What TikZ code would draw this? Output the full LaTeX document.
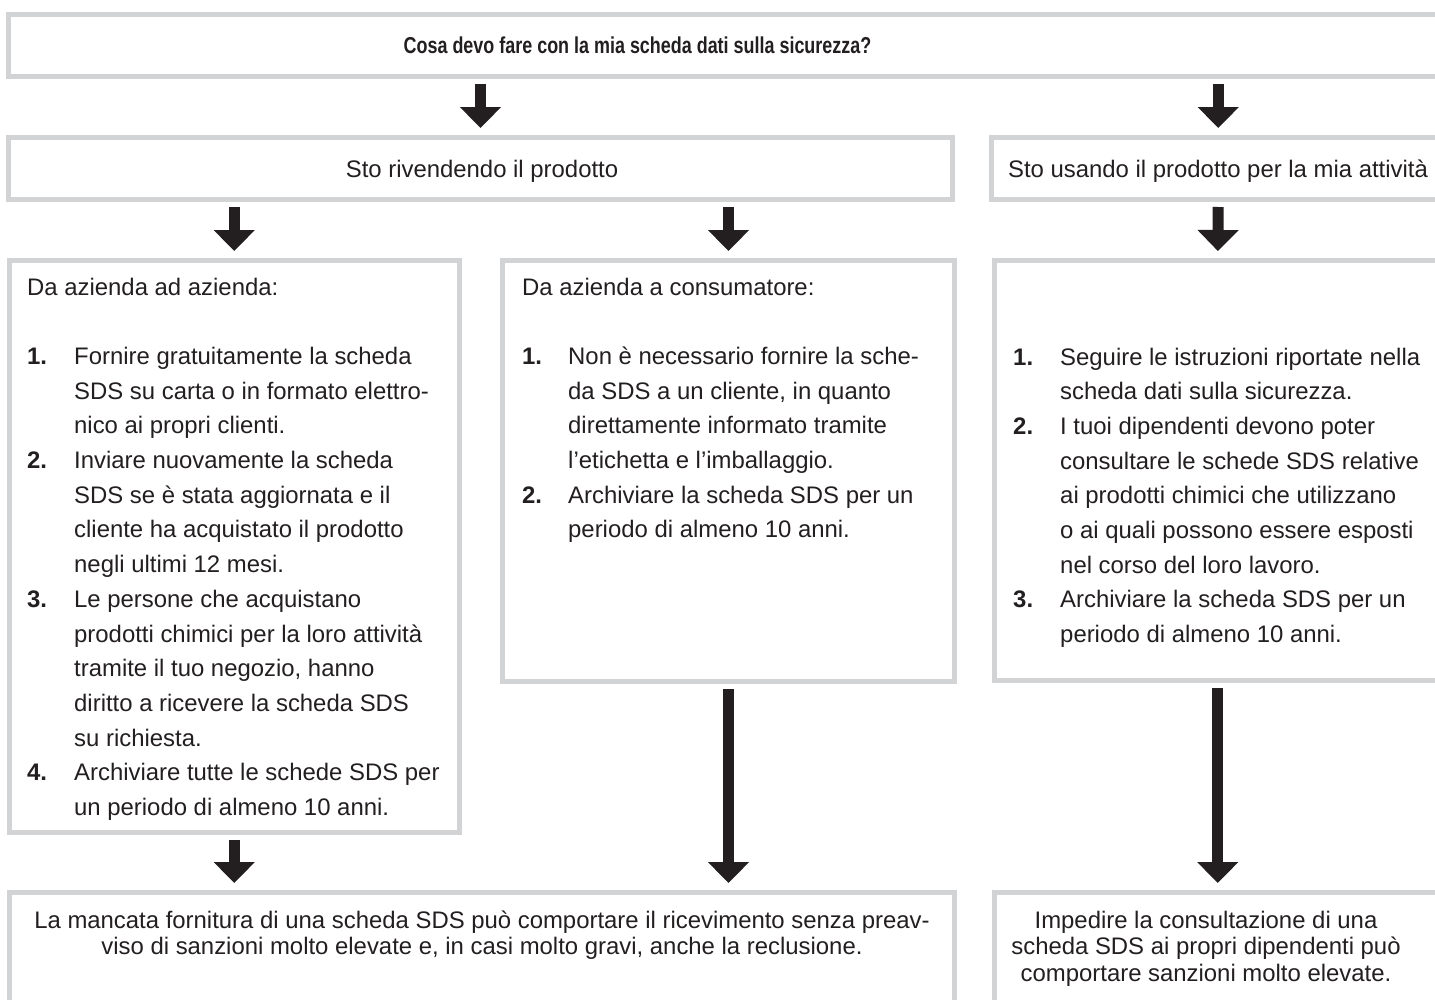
\documentclass[tikz,border=0pt]{standalone}
\usepackage{fontspec}
\setmainfont{Liberation Sans}
\newfontfamily\titlefont[FakeStretch=0.78]{Liberation Sans}
\usetikzlibrary{arrows.meta}

\definecolor{panelgray}{RGB}{209,211,212}
\definecolor{ink}{RGB}{35,31,32}

\newcommand{\bodysize}{\fontsize{23.9}{34.7}\selectfont}
\newcommand{\notesize}{\fontsize{23.9}{26.7}\selectfont}
\newcommand{\itemno}[1]{\textbf{#1}}

\begin{document}
\begin{tikzpicture}[x=1pt, y=-1pt,
    panel/.style={draw=panelgray, line width=5pt, fill=white, inner sep=0pt},
    txt/.style={text=ink, inner sep=0pt, font=\bodysize},
    down/.style={draw=ink, line width=11pt, -{Triangle[width=40pt,length=21pt]},
                 shorten <=5pt, shorten >=7pt}]
    \useasboundingbox[fill=white] (0,0) rectangle (1435,999);
    \clip (0,0) rectangle (1435,999);

    % boxes
    \node[panel, minimum width=1436.5pt, minimum height=62pt] (top) at (726.75,45.5) {};
    \node[panel, minimum width=944pt, minimum height=62pt] (riv) at (480.5,168.5) {};
    \node[panel, minimum width=453.5pt, minimum height=62pt] (uso) at (1218.25,168.5) {};
    \node[panel, minimum width=450.5pt, minimum height=572pt] (boxA) at (234.25,546.5) {};
    \node[panel, minimum width=452pt, minimum height=421pt] (boxB) at (728.5,471) {};
    \node[panel, minimum width=446.5pt, minimum height=420pt] (boxC) at (1217.75,470.5) {};
    \node[panel, minimum width=945.5pt, minimum height=167.5pt] (outL) at (481.75,976.25) {};
    \node[panel, minimum width=446.5pt, minimum height=167.5pt] (outR) at (1217.75,976.25) {};

    % texts
    \node[txt, font=\titlefont\bfseries\fontsize{23}{27}\selectfont, anchor=base] (title)
        at (637.5,53.5) {Cosa devo fare con la mia scheda dati sulla sicurezza?};
    \node[txt, anchor=base] (rivText) at (482,177) {Sto rivendendo il prodotto};
    \node[txt, anchor=base] (usoText) at (1218,177) {Sto usando il prodotto per la mia attività};

    \node[txt, anchor=base west] (listA) at (27,295) {%
        \begin{tabular}[t]{@{}p{47pt}@{}l@{}}
        \multicolumn{2}{@{}l@{}}{Da azienda ad azienda:}\\
        \\
        \itemno{1.} & Fornire gratuitamente la scheda\\
        & SDS su carta o in formato elettro-\\
        & nico ai propri clienti.\\
        \itemno{2.} & Inviare nuovamente la scheda\\
        & SDS se è stata aggiornata e il\\
        & cliente ha acquistato il prodotto\\
        & negli ultimi 12 mesi.\\
        \itemno{3.} & Le persone che acquistano\\
        & prodotti chimici per la loro attività\\
        & tramite il tuo negozio, hanno\\
        & diritto a ricevere la scheda SDS\\
        & su richiesta.\\
        \itemno{4.} & Archiviare tutte le schede SDS per\\
        & un periodo di almeno 10 anni.
        \end{tabular}};

    \node[txt, anchor=base west] (listB) at (522,295) {%
        \begin{tabular}[t]{@{}p{46pt}@{}l@{}}
        \multicolumn{2}{@{}l@{}}{Da azienda a consumatore:}\\
        \\
        \itemno{1.} & Non è necessario fornire la sche-\\
        & da SDS a un cliente, in quanto\\
        & direttamente informato tramite\\
        & l’etichetta e l’imballaggio.\\
        \itemno{2.} & Archiviare la scheda SDS per un\\
        & periodo di almeno 10 anni.
        \end{tabular}};

    \node[txt, anchor=base west] (listC) at (1013,365) {%
        \begin{tabular}[t]{@{}p{47pt}@{}l@{}}
        \itemno{1.} & Seguire le istruzioni riportate nella\\
        & scheda dati sulla sicurezza.\\
        \itemno{2.} & I tuoi dipendenti devono poter\\
        & consultare le schede SDS relative\\
        & ai prodotti chimici che utilizzano\\
        & o ai quali possono essere esposti\\
        & nel corso del loro lavoro.\\
        \itemno{3.} & Archiviare la scheda SDS per un\\
        & periodo di almeno 10 anni.
        \end{tabular}};

    \node[txt, font=\notesize, anchor=base] (noteL) at (482,928) {%
        \begin{tabular}[t]{@{}c@{}}
        La mancata fornitura di una scheda SDS può comportare il ricevimento senza preav-\\
        viso di sanzioni molto elevate e, in casi molto gravi, anche la reclusione.
        \end{tabular}};
    \node[txt, font=\notesize, anchor=base] (noteR) at (1206,928) {%
        \begin{tabular}[t]{@{}c@{}}
        Impedire la consultazione di una\\
        scheda SDS ai propri dipendenti può\\
        comportare sanzioni molto elevate.
        \end{tabular}};

    % arrows
    \draw[down] (top.south -| riv.north) -- (riv.north);
    \draw[down] (top.south -| uso.north) -- (uso.north);
    \draw[down] (riv.south -| boxA.north) -- (boxA.north);
    \draw[down] (riv.south -| boxB.north) -- (boxB.north);
    \draw[down] (uso.south) -- (boxC.north);
    \draw[down] (boxA.south) -- (boxA.south |- outL.north);
    \draw[down] (boxB.south) -- (boxB.south |- outL.north);
    \draw[down] (boxC.south) -- (outR.north);
\end{tikzpicture}
\end{document}
